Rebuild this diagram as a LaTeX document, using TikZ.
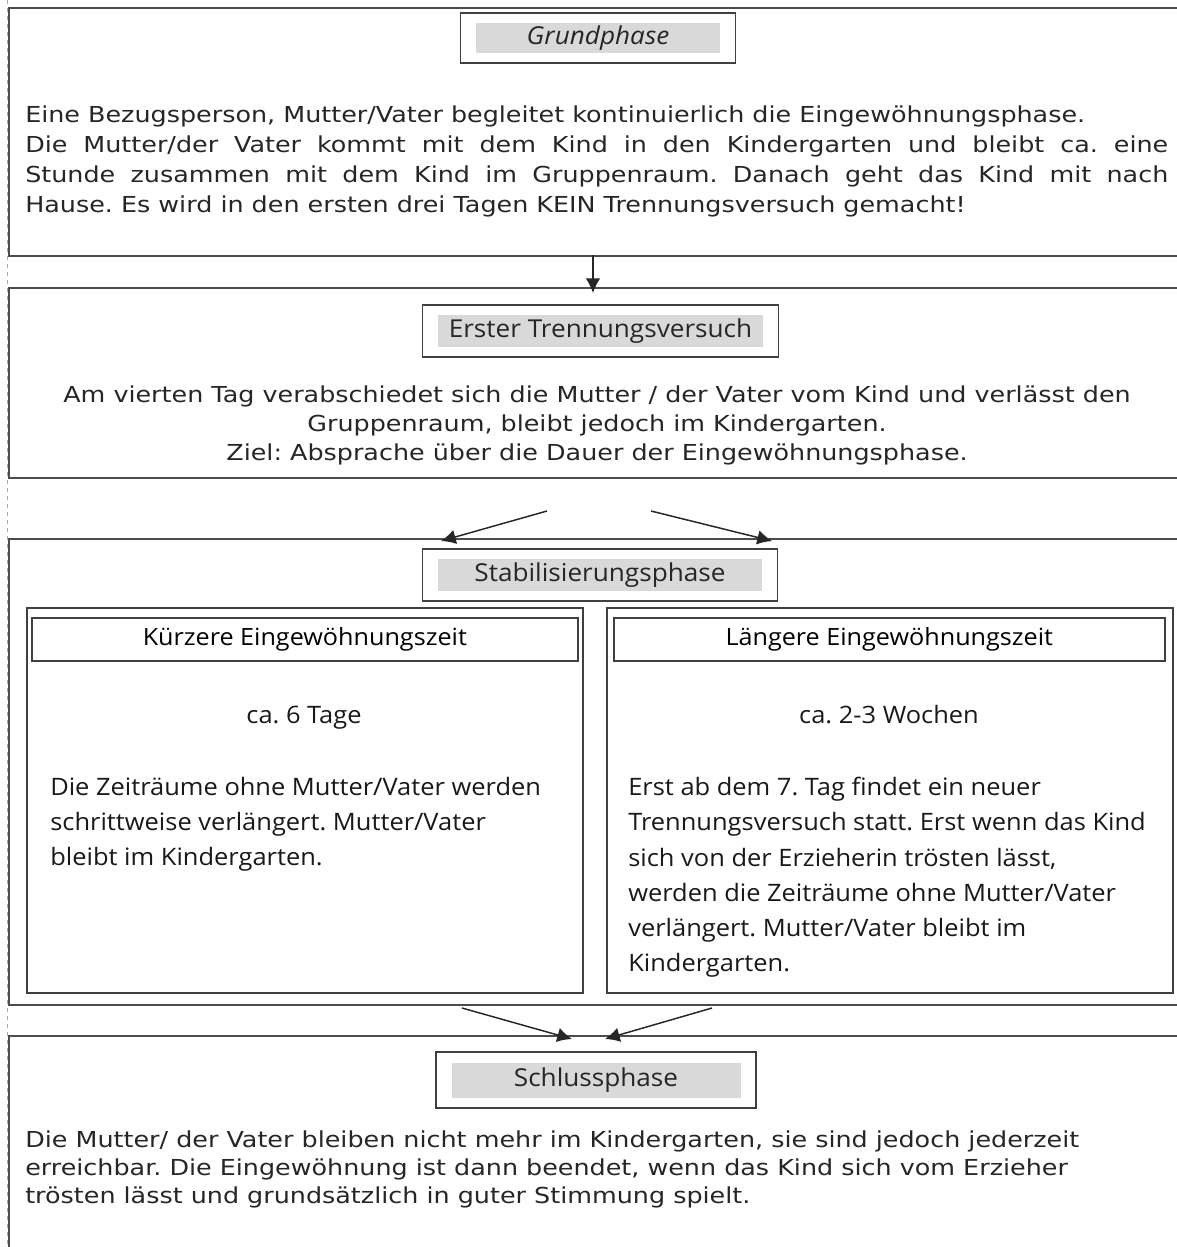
\documentclass[tikz,border=0pt]{standalone}
\usepackage{fontspec}
\setmainfont{DejaVu Sans}[FakeStretch=1.155]
\newfontfamily\comicfont{Open Sans}[FakeStretch=1.06]
\usetikzlibrary{arrows.meta,fit}
\frenchspacing

\tikzset{
  phase/.style={draw=black!70, line width=1.4pt, anchor=north west, inner sep=0pt},
  titlebar/.style={fill=black!15, text=black!85, inner sep=0pt, font=\comicfont\fontsize{18.5}{20}\selectfont},
  titleframe/.style={draw=black!75, line width=1.2pt, inner xsep=11.5pt, inner ysep=7.5pt},
  subbox/.style={draw=black!75, line width=1.2pt, anchor=north west, inner sep=0pt},
  subhead/.style={draw=black!75, line width=1.2pt, anchor=north west, inner sep=0pt, font=\comicfont\fontsize{17.8}{20}\selectfont},
  bodytext/.style={inner sep=0pt, text=black!85, font=\fontsize{16.5}{22.5}\selectfont},
  comictext/.style={inner sep=0pt, text=black!90, align=left, font=\comicfont\fontsize{18}{26.4}\selectfont},
  flow/.style={-{Latex[length=11pt,width=11pt]}, line width=1.1pt, black!85}
}

\begin{document}
\begin{tikzpicture}[x=0.75pt, y=-0.75pt]
\useasboundingbox (0,0) rectangle (1177,1247);
\clip (0,0) rectangle (1177,1247);

% faint guide on the left
\draw[black!35, dashed, line width=0.6pt] (7,0) -- (7,1247);

% phase boxes
\node[phase, fill=white, minimum width=886.5pt, minimum height=186pt] (grund) at (8,7) {};
\node[phase, fill=white, minimum width=886.5pt, minimum height=142.5pt] (erster) at (8,287) {};
\node[phase, fill=white, minimum width=886.5pt, minimum height=349.5pt] (stabil) at (8,538) {};
\node[phase, fill=white, minimum width=886.5pt, minimum height=168.75pt] (schluss) at (8,1035) {};

% titles
\node[titlebar, minimum width=183pt, minimum height=22.5pt] (tGrund) at (598,38) {\itshape Grundphase};
\node[titleframe, fit=(tGrund)] (fGrund) {};
\node[titlebar, minimum width=243.75pt, minimum height=24pt] (tErster) at (600.5,331) {Erster Trennungsversuch};
\node[titleframe, fit=(tErster)] (fErster) {};
\node[titlebar, minimum width=243pt, minimum height=24pt] (tStabil) at (600,575) {Stabilisierungsphase};
\node[titleframe, fit=(tStabil)] (fStabil) {};
\node[titlebar, minimum width=216.75pt, minimum height=26.25pt] (tSchluss) at (596,1080) {Schlussphase};
\node[titleframe, fit=(tSchluss)] (fSchluss) {};

% Grundphase
\node[bodytext, anchor=north west, text width=857.25pt, align=justify] (txGrund) at (25,106) {Eine Bezugsperson, Mutter/Vater begleitet kontinuierlich die Eingewöhnungsphase.\\
Die Mutter/der Vater kommt mit dem Kind in den Kindergarten und bleibt ca. eine\linebreak Stunde zusammen mit dem Kind im Gruppenraum. Danach geht das Kind mit nach\linebreak Hause. Es wird in den ersten drei Tagen KEIN Trennungsversuch gemacht!};

% Erster Trennungsversuch
\node[bodytext, anchor=north, align=center, font=\fontsize{16.5}{21.4}\selectfont] (txErster) at (597,386) {Am vierten Tag verabschiedet sich die Mutter / der Vater vom Kind und verlässt den\\
Gruppenraum, bleibt jedoch im Kindergarten.\\
Ziel: Absprache über die Dauer der Eingewöhnungsphase.};

% Stabilisierungsphase
\node[subbox, minimum width=417pt, minimum height=288.75pt] (kurz) at (26,607) {};
\node[subhead, minimum width=409.5pt, minimum height=32.25pt] (hKurz) at (31,617) {Kürzere Eingewöhnungszeit};
\node[comictext, anchor=base] (dKurz) at (304,723) {ca. 6 Tage};
\node[comictext, anchor=north west] (txKurz) at (50,777) {Die Zeiträume ohne Mutter/Vater werden\\
schrittweise verlängert. Mutter/Vater\\
bleibt im Kindergarten.};

\node[subbox, minimum width=424.5pt, minimum height=288.75pt] (lang) at (606,607) {};
\node[subhead, minimum width=413.25pt, minimum height=32.25pt] (hLang) at (613,617) {Längere Eingewöhnungszeit};
\node[comictext, anchor=base] (dLang) at (889,723) {ca. 2-3 Wochen};
\node[comictext, anchor=north west] (txLang) at (628,777) {Erst ab dem 7. Tag findet ein neuer\\
Trennungsversuch statt. Erst wenn das Kind\\
sich von der Erzieherin trösten lässt,\\
werden die Zeiträume ohne Mutter/Vater\\
verlängert. Mutter/Vater bleibt im\\
Kindergarten.};

% Schlussphase
\node[bodytext, anchor=north west, align=left, font=\fontsize{16.5}{21}\selectfont] (txSchluss) at (25,1131) {Die Mutter/ der Vater bleiben nicht mehr im Kindergarten, sie sind jedoch jederzeit\\
erreichbar. Die Eingewöhnung ist dann beendet, wenn das Kind sich vom Erzieher\\
trösten lässt und grundsätzlich in guter Stimmung spielt.};

% connectors
\coordinate (a1s) at (593,255);
\coordinate (a1e) at (593,293);
\coordinate (a2s) at (547,511);
\coordinate (a2e) at (441,541);
\coordinate (a3s) at (651,511);
\coordinate (a3e) at (772,541);
\coordinate (a4s) at (462,1008);
\coordinate (a4e) at (572,1039);
\coordinate (a5s) at (712,1008);
\coordinate (a5e) at (605,1039);
\draw[flow] (a1s) -- (a1e);
\draw[flow] (a2s) -- (a2e);
\draw[flow] (a3s) -- (a3e);
\draw[flow] (a4s) -- (a4e);
\draw[flow] (a5s) -- (a5e);
\end{tikzpicture}
\end{document}
